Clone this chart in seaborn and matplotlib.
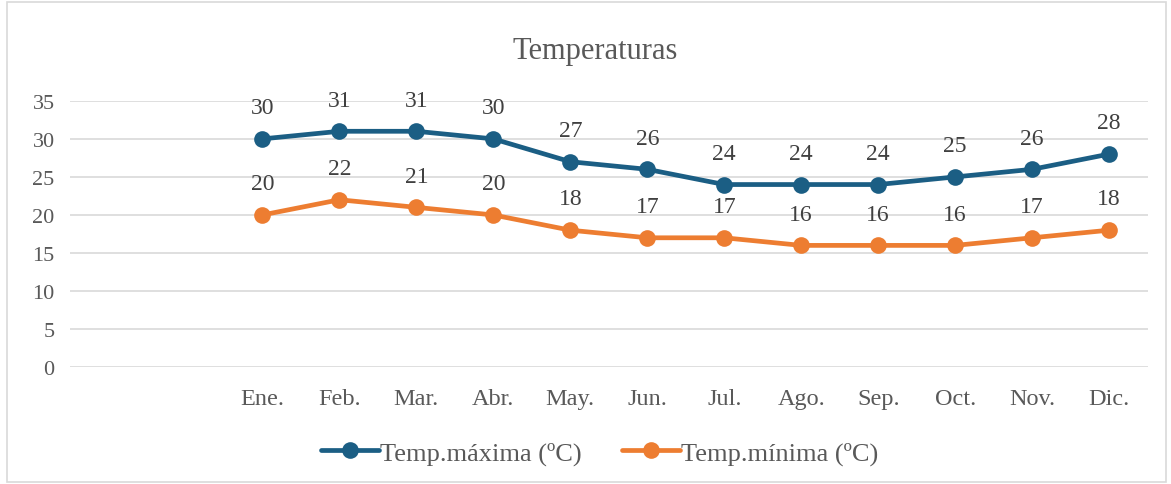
import seaborn as sns
import numpy as np
import pandas as pd
import matplotlib.pyplot as plt
from matplotlib.patches import Rectangle

meses = ['Ene.', 'Feb.', 'Mar.', 'Abr.', 'May.', 'Jun.', 'Jul.', 'Ago.', 'Sep.', 'Oct.', 'Nov.', 'Dic.']
temp_max = [30, 31, 31, 30, 27, 26, 24, 24, 24, 25, 26, 28]
temp_min = [20, 22, 21, 20, 18, 17, 17, 16, 16, 16, 17, 18]
serie_max = 'Temp.máxima (ºC)'
serie_min = 'Temp.mínima (ºC)'
n_vacios = 2  # two empty category slots before Ene.

sns.set_style("white")
plt.rcParams['font.family'] = ['Liberation Serif', 'DejaVu Serif']

pos = np.arange(n_vacios, n_vacios + len(meses))
df = pd.concat([
  pd.DataFrame({'pos': pos, 'mes': meses, 'temp': temp_max, 'serie': serie_max}),
  pd.DataFrame({'pos': pos, 'mes': meses, 'temp': temp_min, 'serie': serie_min}),
], ignore_index=True)

colores = {serie_max: '#1B5E84', serie_min: '#ED7D31'}
texto = '#404040'
gris = '#595959'

fig = plt.figure(figsize=(11.71, 4.85), dpi=100)
ax = fig.add_axes([0.0598, 0.241, 0.9202, 0.549])

sns.lineplot(data=df, x='pos', y='temp', hue='serie', palette=colores,
             marker='o', markersize=12, markeredgewidth=0, linewidth=3.4,
             ax=ax, legend=False)

for _, r in df.iterrows():
  ax.annotate(str(r['temp']), (r['pos'], r['temp']), xytext=(0, 18.5),
              textcoords='offset points', ha='center', va='baseline',
              fontsize=17, color=texto)

ax.set_xlim(-0.5, n_vacios + len(meses) - 0.5)
ax.set_ylim(0, 35)
ax.set_yticks(range(0, 36, 5))
ax.set_xticks(pos)
ax.set_xticklabels(meses)
ax.tick_params(axis='both', length=0, labelcolor=gris)
ax.tick_params(axis='x', pad=15, labelsize=17.5)
ax.tick_params(axis='y', pad=11, labelsize=16)
ax.grid(axis='y', color='#D9D9D9', linewidth=1.2)
ax.set_xlabel('')
ax.set_ylabel('')
sns.despine(ax=ax, left=True, bottom=True)

fig.text(0.508, 0.893, 'Temperaturas', ha='center', va='center', fontsize=22, color=gris)

handles = [plt.Line2D([], [], color=colores[s], marker='o', markersize=12,
                      markeredgewidth=0, linewidth=3.4, label=s) for s in (serie_max, serie_min)]
fig.legend(handles=handles, loc='center', bbox_to_anchor=(0.512, 0.064), ncol=2,
           frameon=False, fontsize=19, labelcolor=gris, handlelength=2.2,
           handletextpad=0.05, columnspacing=1.5)

fig.patches.append(Rectangle((0.006, 0.004), 0.99, 0.99, transform=fig.transFigure,
                             fill=False, edgecolor='#D9D9D9', linewidth=1.2))

fig.savefig('out.png', dpi=100)
